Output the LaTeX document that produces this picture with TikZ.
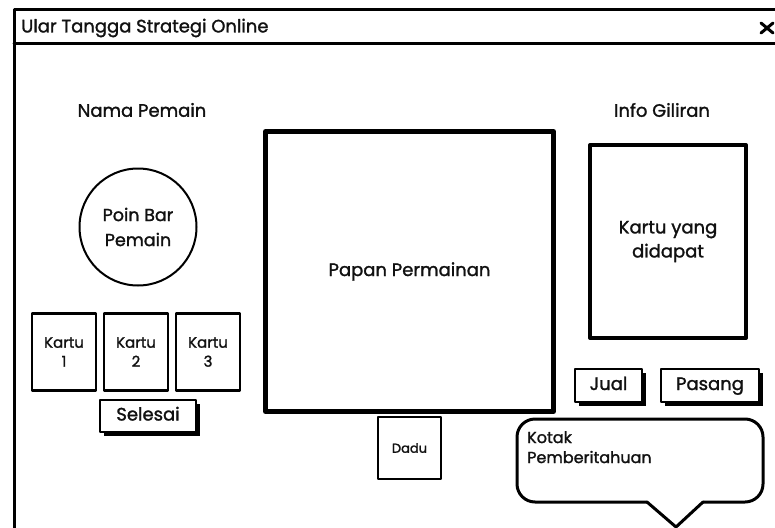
\documentclass[tikz,border=0pt]{standalone}
\usepackage{fontspec}
\setmainfont{Poppins}[UprightFeatures={FakeBold=1.5}]
\usetikzlibrary{shadows}
\definecolor{ink}{HTML}{111111}
\begin{document}
\begin{tikzpicture}[x=1pt,y=-1pt,
  line join=round, line cap=round,
  frameline/.style={draw=black, line width=3pt},
  lbl/.style={text=ink, inner sep=0pt, font=\fontsize{18}{21}\selectfont},
  box/.style={draw=black, fill=white, rectangle, inner sep=0pt, align=center,
    text=ink, line width=2.5pt},
  boardbox/.style={box, line width=5pt},
  cardbox/.style={box, minimum width=64, minimum height=77,
    font=\fontsize{15}{19}\selectfont},
  btn/.style={box, line width=2pt, font=\fontsize{18}{21}\selectfont,
    text height=13pt, text depth=4pt,
    drop shadow={shadow xshift=4pt, shadow yshift=-4pt, fill=black, opacity=1}},
]
\useasboundingbox (0,0) rectangle (775,527);

% window frame and title bar
\draw[frameline] (14,540) -- (14,10) -- (790,10);
\draw[frameline] (14,44) -- (790,44);
\node[lbl, anchor=west] (title) at (21,28) {Ular Tangga Strategi Online};
\coordinate (close) at (767,28);
\draw[line width=3pt] ([shift={(-6,-5)}]close) -- ([shift={(6,5)}]close)
  ([shift={(-6,5)}]close) -- ([shift={(6,-5)}]close);

% player panel
\node[lbl] (nama) at (142,110) {Nama Pemain};
\node[draw=black, line width=2pt, circle, minimum size=117, inner sep=0pt,
  align=center, text=ink, font=\fontsize{17.5}{25}\selectfont]
  (poin) at (138,227) {Poin Bar\\Pemain};
\node[cardbox] (k1) at (64,352) {Kartu\\1};
\node[cardbox] (k2) at (136,352) {Kartu\\2};
\node[cardbox] (k3) at (208,352) {Kartu\\3};
\node[btn, minimum width=96, minimum height=32] (selesai) at (148,416) {Selesai};

% board and dice
\node[boardbox, minimum width=288, minimum height=280,
  font=\fontsize{18}{21}\selectfont] (papan) at (409.5,271.5) {Papan Permainan};
\node[box, line width=2pt, minimum width=63, minimum height=62,
  font=\fontsize{13}{17}\selectfont] (dadu) at (409.5,448) {Dadu};

% turn info panel
\node[lbl] (info) at (662,110) {Info Giliran};
\node[box, line width=4pt, minimum width=156, minimum height=193,
  font=\fontsize{18}{24}\selectfont] (kartu) at (668,241.5) {Kartu yang\\didapat};
\node[btn, minimum width=67, minimum height=33] (jual) at (608.5,385.5) {Jual};
\node[btn, minimum width=98, minimum height=33] (pasang) at (710,385.5) {Pasang};

% notification callout
\coordinate (tipL) at (647,502);
\coordinate (tipR) at (703,502);
\coordinate (tip) at (676,527);
\draw[line width=3pt, rounded corners=18pt]
  (tipL) -- (517,502) -- (517,419) -- (763,419) -- (763,502) -- (tipR);
\draw[line width=3pt] (tipR) -- (tip) -- (tipL);
\node[text=ink, anchor=north west, align=left, inner sep=0pt,
  font=\fontsize{16}{20}\selectfont] (notif) at (527,431) {Kotak\\Pemberitahuan};
\end{tikzpicture}
\end{document}
